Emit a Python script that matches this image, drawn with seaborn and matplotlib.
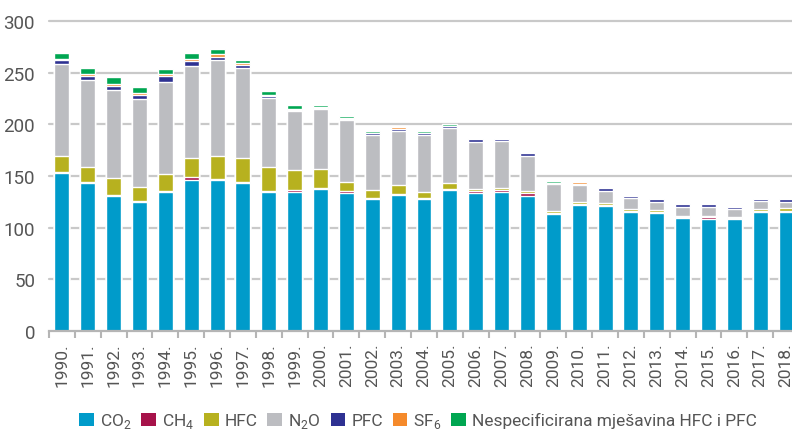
import numpy as np
import pandas as pd
import seaborn as sns
import matplotlib.pyplot as plt
from matplotlib.patches import Patch

# values
years = [f"{y}." for y in range(1990, 2019)]
co2 = [153, 143.5, 131, 125, 134.5, 146, 146, 143, 134.5, 134.5, 137.5, 133.5, 127.7, 131.6,
       127.7, 136.5, 133.5, 134.5, 130.6, 113.2, 122, 121, 115, 114, 109.4, 108.4, 108.4, 115, 115]
ch4 = [1.2, 1, 1, 1, 1, 3, 1, 1, 1, 2, 1, 2, 1, 1, 1, 1, 2, 2, 3, 1, 1, 1, 1, 1, 1, 2, 1, 1, 1]
hfc = [15, 14.5, 16.5, 13.5, 16.5, 18.5, 22.5, 23, 23, 19.3, 18.4, 8.7, 8, 8.7, 5.8, 5.8,
       2, 2, 2, 2, 2, 2, 2, 2, 1, 1, 1, 2, 3]
n2o = [89, 84, 85, 85, 89, 89, 92.5, 88, 67, 57, 58, 60, 53, 52, 55, 53, 45.5, 45.5, 34,
       26, 16.5, 11.6, 10.7, 7.8, 8.7, 8.7, 7.7, 7.8, 5.8]
pfc = [4, 4, 4, 4, 6, 5, 3, 2, 2, 1, 1, 1.2, 2, 2, 2, 2, 3, 2, 3, 1, 1, 3, 2, 3, 3, 3, 2, 2, 3]
sf6 = [1.5, 2, 2, 2, 2, 2, 3, 2, 1, 1, 1, 0.5, 0.2, 2, 0, 0, 0, 0, 0, 0, 2, 0, 0, 0, 0, 0, 0, 0, 0]
nesp = [5, 6, 6, 5.5, 5, 6, 5, 3.5, 4, 4, 2, 2, 2, 0, 2, 2, 0, 0, 0, 2, 0, 0, 0, 0, 0, 0, 0, 0, 0]

series = ["CO$_{\\mathregular{2}}$", "CH$_{\\mathregular{4}}$", "HFC", "N$_{\\mathregular{2}}$O",
          "PFC", "SF$_{\\mathregular{6}}$", "Nespecificirana mješavina HFC i PFC"]
colors = ["#009bca", "#a6124a", "#b7b11f", "#bcbdc1", "#2e3192", "#f58a2b", "#00a651"]

df = pd.DataFrame({"year": years, "s0": co2, "s1": ch4, "s2": hfc, "s3": n2o,
                   "s4": pfc, "s5": sf6, "s6": nesp})
cols = [f"s{i}" for i in range(7)]
cum = df[cols].cumsum(axis=1)

sns.set_theme(style="white")
plt.rcParams["font.family"] = ["Roboto", "DejaVu Sans"]
txt = "#555555"

fig = plt.figure(figsize=(7.92, 4.35), dpi=100)
ax = fig.add_axes([49 / 792, 103 / 435, 750 / 792, 310 / 435])

# draw cumulative totals from the top layer down so each layer overlays the next
for i in range(6, -1, -1):
    sns.barplot(x=df["year"], y=cum[cols[i]], color=colors[i], saturation=1,
                width=0.58, ax=ax, order=years, zorder=3)

ax.set_ylim(0, 300)
ax.set_xlim(-0.5, len(years) - 0.5)
ax.set_yticks(range(0, 301, 50))
for v in range(50, 301, 50):
    ax.axhline(v, color="#c9c9c9", lw=1.6, zorder=1, clip_on=False)

for s in ["top", "right", "left"]:
    ax.spines[s].set_visible(False)
ax.spines["bottom"].set_color("#b5b5b5")
ax.spines["bottom"].set_linewidth(1.6)
ax.spines["bottom"].set_zorder(4)

ax.set_xlabel("")
ax.set_ylabel("")
ax.set_xticks(np.arange(len(years)))
ax.set_xticklabels(years, rotation=90, fontsize=12.5, color=txt)
ax.set_xticks(np.arange(len(years) + 1) - 0.5, minor=True)
ax.tick_params(axis="x", which="major", length=0, pad=8)
ax.tick_params(axis="x", which="minor", length=5, width=1.5, color="#b5b5b5", bottom=True)
ax.tick_params(axis="y", length=0, labelsize=13.5, labelcolor=txt, pad=10)

handles = [Patch(facecolor=c, edgecolor="none") for c in colors]
fig.legend(handles, series, loc="center", bbox_to_anchor=(418 / 792, 13 / 435), ncol=7,
           frameon=False, fontsize=12.5, labelcolor=txt, handlelength=0.85, handleheight=0.85,
           handletextpad=0.35, columnspacing=0.55)

fig.savefig("out.png", dpi=100)
